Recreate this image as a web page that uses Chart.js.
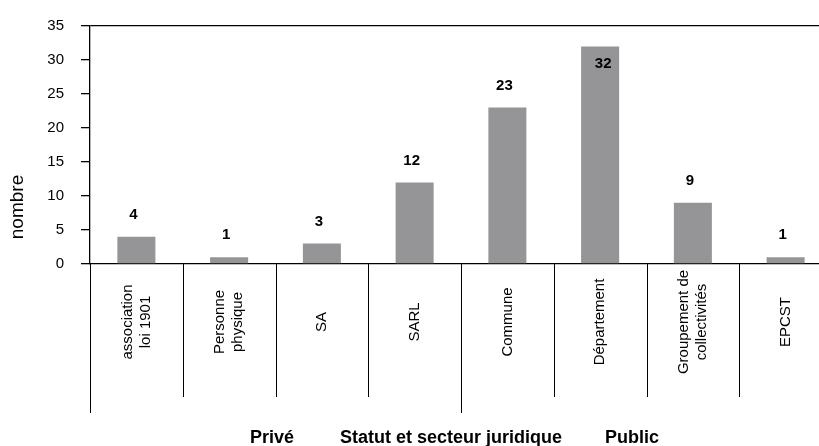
<!DOCTYPE html>
<html>
<head>
<meta charset="utf-8">
<script src="https://cdn.jsdelivr.net/npm/chart.js@4.4.0/dist/chart.umd.min.js"></script>
<style>
  html, body { margin: 0; padding: 0; background: #fff; overflow: hidden; }
  #wrap { width: 819px; height: 446px; overflow: hidden; position: relative; }
  #box { width: 832px; height: 446px; }
</style>
</head>
<body>
<div id="wrap"><div id="box"><canvas id="chart"></canvas></div></div>
<script>
// categories (each entry = lines of the rotated label)
const categories = [
    ['association', 'loi 1901'],
    ['Personne', 'physique'],
    ['SA'],
    ['SARL'],
    ['Commune'],
    ['Département'],
    ['Groupement de', 'collectivités'],
    ['EPCST']
];
const counts = [4, 1, 3, 12, 23, 32, 9, 1];
const yTicks = [0, 5, 10, 15, 20, 25, 30, 35];
const groupLabels = ['Privé', 'Statut et secteur juridique', 'Public'];
const yTitle = 'nombre';

const FONT = '"Liberation Sans", Arial, sans-serif';
const BAR_COLOR = '#959598';

// rotated labels, separators, value labels and bottom texts
const decor = {
    id: 'decor',
    afterDraw(chart) {
        const { ctx, scales: { x, y } } = chart;
        const axisY = y.getPixelForValue(0);
        ctx.save();

        // category separators
        ctx.strokeStyle = '#000';
        ctx.lineWidth = 1;
        for (let i = 0; i <= categories.length; i++) {
            const bx = Math.round(x.getPixelForValue(i - 0.5)) + 0.5;
            const long = (i === 0 || i === 4);
            ctx.beginPath();
            ctx.moveTo(bx, axisY);
            ctx.lineTo(bx, long ? 413 : 397);
            ctx.stroke();
        }

        // category labels, vertical
        ctx.fillStyle = '#000';
        ctx.font = '15px ' + FONT;
        ctx.textAlign = 'center';
        ctx.textBaseline = 'middle';
        categories.forEach((lines, i) => {
            const cx = x.getPixelForValue(i);
            ctx.save();
            ctx.translate(cx, 322);
            ctx.rotate(-Math.PI / 2);
            lines.forEach((ln, j) => {
                ctx.fillText(ln, 0, (j - (lines.length - 1) / 2) * 18);
            });
            ctx.restore();
        });

        // value labels
        ctx.font = 'bold 15px ' + FONT;
        counts.forEach((v, i) => {
            const cx = x.getPixelForValue(i);
            const top = y.getPixelForValue(v);
            if (v >= 30) {
                ctx.fillText(String(v), cx + 3, top + 17);
            } else {
                ctx.fillText(String(v), cx - 3, top - 22);
            }
        });

        // y title
        ctx.font = '19px ' + FONT;
        ctx.save();
        ctx.translate(18, 207);
        ctx.rotate(-Math.PI / 2);
        ctx.fillText(yTitle, 0, 0);
        ctx.restore();

        // bottom texts
        ctx.font = 'bold 18px ' + FONT;
        ctx.fillText(groupLabels[0], 272, 438);
        ctx.fillText(groupLabels[1], 451, 438);
        ctx.fillText(groupLabels[2], 632, 438);

        ctx.restore();
    }
};

new Chart(document.getElementById('chart'), {
    type: 'bar',
    data: {
        labels: categories,
        datasets: [{
            data: counts,
            backgroundColor: BAR_COLOR,
            borderWidth: 0,
            barPercentage: 0.41,
            categoryPercentage: 1.0
        }]
    },
    options: {
        responsive: true,
        maintainAspectRatio: false,
        animation: false,
        devicePixelRatio: 1,
        layout: { padding: { top: 19, left: 0, right: 0, bottom: 0 } },
        scales: {
            x: {
                offset: true,
                ticks: { display: false },
                grid: { display: false },
                border: { display: true, color: '#000', width: 1.3 },
                afterFit: (scale) => { scale.height = 182; }
            },
            y: {
                min: 0,
                max: 35,
                afterBuildTicks: (scale) => { scale.ticks = yTicks.map(v => ({ value: v })); },
                ticks: {
                    color: '#000',
                    font: { family: FONT, size: 15 },
                    padding: 17
                },
                grid: {
                    drawOnChartArea: true,
                    drawTicks: true,
                    tickLength: 9,
                    tickColor: '#000',
                    color: (c) => c.tick && c.tick.value === 35 ? '#000' : 'rgba(0,0,0,0)',
                    lineWidth: 1.3
                },
                border: { display: true, color: '#000', width: 1.3 },
                afterFit: (scale) => { scale.width = 90; }
            }
        },
        plugins: {
            legend: { display: false },
            tooltip: { enabled: false }
        }
    },
    plugins: [decor]
});
</script>
</body>
</html>
